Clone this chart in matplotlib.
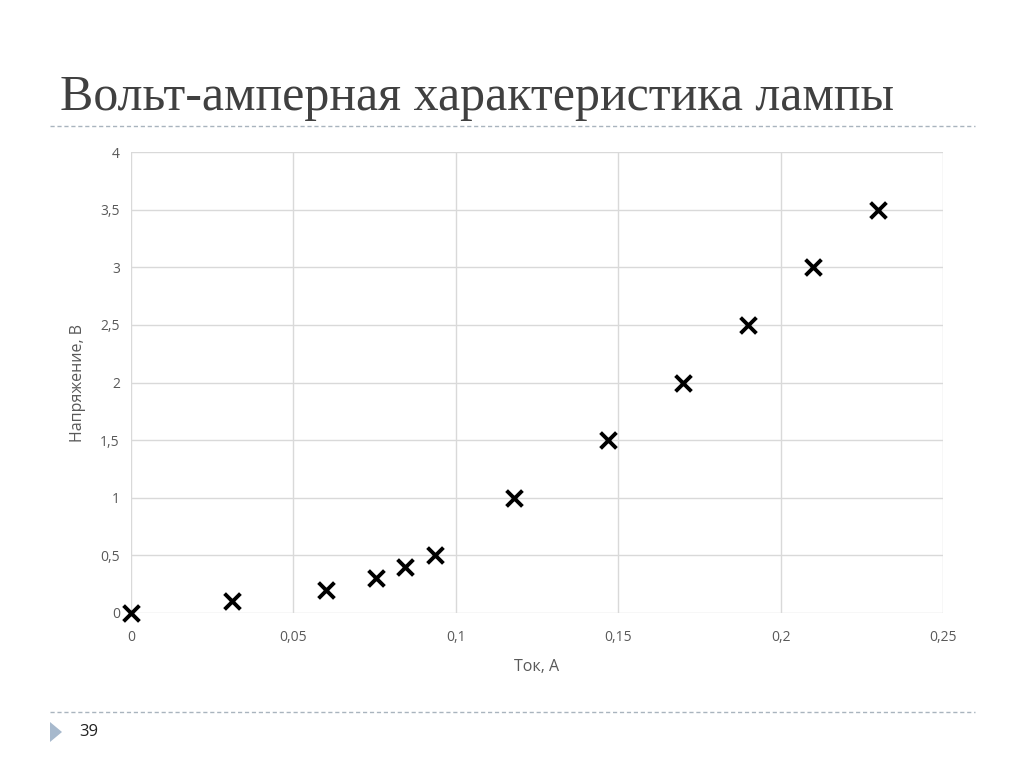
import matplotlib.pyplot as plt
from matplotlib.patches import Polygon

# Data
current = [0, 0.031, 0.060, 0.0755, 0.0845, 0.0935, 0.118, 0.147, 0.170, 0.190, 0.210, 0.230]
voltage = [0, 0.1, 0.2, 0.3, 0.4, 0.5, 1.0, 1.5, 2.0, 2.5, 3.0, 3.5]

x_ticks = [0, 0.05, 0.1, 0.15, 0.2, 0.25]
x_labels = ["0", "0,05", "0,1", "0,15", "0,2", "0,25"]
y_ticks = [0, 0.5, 1, 1.5, 2, 2.5, 3, 3.5, 4]
y_labels = ["0", "0,5", "1", "1,5", "2", "2,5", "3", "3,5", "4"]

title = "Вольт-амперная характеристика лампы"
page_num = "39"

W, H = 1024, 767
fig = plt.figure(figsize=(W / 100, H / 100), dpi=100)
fig.patch.set_facecolor("white")

# Title and decorative lines
fig.text(60 / W, 1 - 98 / H, title, fontsize=36, family="Liberation Serif",
         color="#404040", va="center", ha="left")
fig.add_artist(plt.Line2D([50 / W, 975 / W], [1 - 126 / H, 1 - 126 / H],
                          color="#a9b4be", lw=1, ls=(0, (3, 2))))
fig.add_artist(plt.Line2D([50 / W, 975 / W], [1 - 712 / H, 1 - 712 / H],
                          color="#a9b4be", lw=1, ls=(0, (3, 2))))
tri = Polygon([[50 / W, 1 - 722 / H], [50 / W, 1 - 742 / H], [62 / W, 1 - 732 / H]],
              closed=True, transform=fig.transFigure, color="#a7b9cd", lw=0)
fig.add_artist(tri)
fig.text(79 / W, 1 - 732 / H, page_num, fontsize=12, family="Open Sans",
         color="#222222", va="center", ha="left")

# Chart area
ax = fig.add_axes([131 / W, 1 - 613 / H, (943 - 131) / W, (613 - 152) / H])
ax.scatter(current, voltage, marker="x", s=130, color="black", linewidths=2.8,
           zorder=3, clip_on=False)
ax.set_xlim(0, 0.25)
ax.set_ylim(0, 4)
ax.set_xticks(x_ticks)
ax.set_xticklabels(x_labels)
ax.set_yticks(y_ticks)
ax.set_yticklabels(y_labels)
ax.grid(True, color="#d9d9d9", lw=1)
ax.set_axisbelow(True)
for s in ax.spines.values():
    s.set_visible(False)
ax.tick_params(length=0, labelsize=10, labelcolor="#595959", pad=12)
ax.tick_params(axis="y", pad=8)
for lbl in ax.get_xticklabels() + ax.get_yticklabels():
    lbl.set_family("Open Sans")
ax.set_xlabel("Ток, А", fontsize=11.5, color="#595959", family="Open Sans", labelpad=10)
ax.set_ylabel("Напряжение, В", fontsize=11.5, color="#595959", family="Open Sans", labelpad=10)

fig.savefig("out.png", dpi=100)
